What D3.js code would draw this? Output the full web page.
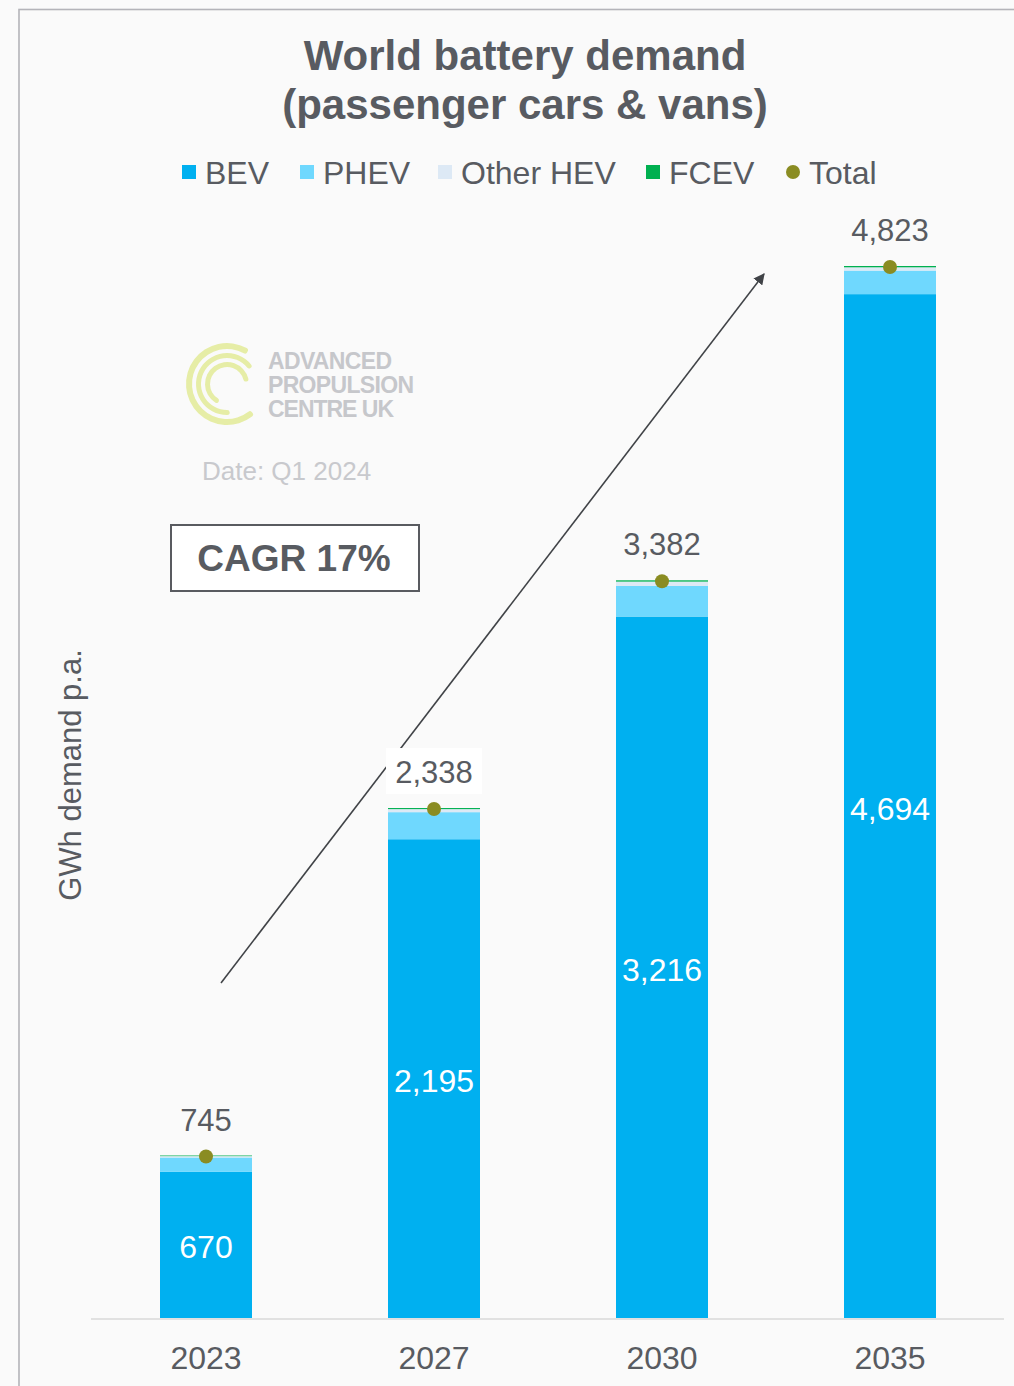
<!DOCTYPE html>
<html><head><meta charset="utf-8">
<script src="https://cdn.jsdelivr.net/npm/d3@7"></script>
<style>
html,body{margin:0;padding:0;background:#fafafa;}
svg{display:block;font-family:"Liberation Sans",Arial,sans-serif;}
</style></head>
<body>
<svg id="c" width="1014" height="1386"></svg>
<script>
const years = ["2023","2027","2030","2035"];
const bev = [670, 2195, 3216, 4694];
const phev = [66, 124, 140, 108];
const otherHev = [6, 14, 20, 15];
const fcev = [3, 5, 6, 6];
const totals = [745, 2338, 3382, 4823];
const seriesNames = ["BEV","PHEV","Other HEV","FCEV"];
const legendNames = ["BEV","PHEV","Other HEV","FCEV","Total"];
const colors = ["#00b0f0","#6fd8fe","#dde9f5","#00b050"];
const totalColor = "#8a8c22";
const textColor = "#585b61";

const svg = d3.select("#c");
svg.append("rect").attr("width",1014).attr("height",1386).attr("fill","#fafafa");
// frame
svg.append("rect").attr("x",19).attr("y",9.5).attr("width",1200).attr("height",1600)
  .attr("fill","#fafafa").attr("stroke","#b4b4b9").attr("stroke-width",1.6);

// title
svg.append("text").attr("x",525).attr("y",70).attr("text-anchor","middle")
  .attr("font-size",42).attr("font-weight","bold").attr("fill",textColor).text("World battery demand");
svg.append("text").attr("x",525).attr("y",119).attr("text-anchor","middle")
  .attr("font-size",42).attr("font-weight","bold").attr("fill",textColor).text("(passenger cars & vans)");

// legend
const legX = [182,300,438,646,786];
legendNames.forEach((n,i)=>{
  const g = svg.append("g").attr("transform",`translate(${legX[i]},172)`);
  if(i<4){
    g.append("rect").attr("x",0).attr("y",-7).attr("width",14).attr("height",14).attr("fill",colors[i]);
  } else {
    g.append("circle").attr("cx",7).attr("cy",0).attr("r",7).attr("fill",totalColor);
  }
  g.append("text").attr("x",23).attr("y",0).attr("dy","0.36em")
    .attr("font-size",32).attr("fill",textColor).text(n);
});

// scales
const x = d3.scaleBand().domain(years).range([92,1004]).paddingInner(0.5965).paddingOuter(0.29825);
const y = d3.scaleLinear().domain([0, d3.max(totals)]).range([1318, 266]);

// data table
const table = years.map((yr,i)=>({year:yr, BEV:bev[i], PHEV:phev[i], "Other HEV":otherHev[i], FCEV:fcev[i], total:totals[i]}));
const stack = d3.stack().keys(seriesNames)(table);

// logo
const logo = svg.append("g").attr("transform","translate(227,384)");
const arcs = [
  {r0:35,r1:41,a0:0.77,a1:2.18},
  {r0:26,r1:31,a0:0.97,a1:2.31},
  {r0:17,r1:22,a0:1.14,a1:2.46}
];
arcs.forEach(a=>{
  logo.append("path").attr("d", d3.arc().innerRadius(a.r0).outerRadius(a.r1)
    .startAngle(Math.PI*a.a0).endAngle(Math.PI*a.a1).cornerRadius(2.5)()).attr("fill","#e6eda6");
});
["ADVANCED","PROPULSION","CENTRE UK"].forEach((t,i)=>{
  svg.append("text").attr("x",268).attr("y",369+i*24).attr("font-size",23).attr("font-weight","bold")
    .attr("fill","#c6c7cb").attr("textLength", i==1?146:(i==0?124:126)).text(t);
});
svg.append("text").attr("x",202).attr("y",480).attr("font-size",26).attr("fill","#c8c9cd").text("Date: Q1 2024");

// CAGR box
svg.append("rect").attr("x",171).attr("y",525).attr("width",248).attr("height",66)
  .attr("fill","#ffffff").attr("stroke","#595b60").attr("stroke-width",2);
svg.append("text").attr("x",294).attr("y",558).attr("dy","0.36em").attr("text-anchor","middle")
  .attr("font-size",37).attr("font-weight","bold").attr("fill",textColor).text("CAGR 17%");

// y axis label
svg.append("text").attr("transform","translate(70,775) rotate(-90)").attr("text-anchor","middle")
  .attr("dy","0.36em").attr("font-size",31).attr("fill",textColor).text("GWh demand p.a.");

// bars
svg.append("g").selectAll("g").data(stack).join("g").attr("fill",(d,i)=>colors[i])
  .selectAll("rect").data(d=>d).join("rect")
  .attr("x",d=>x(d.data.year)).attr("width",x.bandwidth())
  .attr("y",d=>y(d[1])).attr("height",d=>y(d[0])-y(d[1]));

// axis line
svg.append("line").attr("x1",91).attr("x2",1004).attr("y1",1319).attr("y2",1319)
  .attr("stroke","#e1e1e1").attr("stroke-width",2);

// x labels
const xAxis = svg.append("g").attr("transform","translate(0,1319)")
  .call(d3.axisBottom(x).tickSize(0).tickPadding(0));
xAxis.select(".domain").remove();
xAxis.selectAll("text").attr("y",38).attr("dy","0.36em").attr("font-size",32)
  .attr("font-family","Liberation Sans, Arial, sans-serif").attr("fill",textColor);

// arrow
svg.append("defs").append("marker").attr("id","ah").attr("viewBox","0 0 10 10")
  .attr("refX",9).attr("refY",5).attr("markerWidth",7).attr("markerHeight",7).attr("orient","auto")
  .append("path").attr("d","M0,0 L10,5 L0,10 z").attr("fill","#404347");
svg.append("line").attr("x1",221).attr("y1",983).attr("x2",764).attr("y2",274)
  .attr("stroke","#404347").attr("stroke-width",1.6).attr("marker-end","url(#ah)");

// BEV inner labels
svg.append("g").selectAll("text").data(table).join("text")
  .attr("x",d=>x(d.year)+x.bandwidth()/2).attr("y",d=>(y(0)+y(d.BEV))/2+2).attr("dy","0.36em")
  .attr("text-anchor","middle").attr("font-size",32).attr("fill","#ffffff")
  .text(d=>d3.format(",")(d.BEV));

// total label box (2027 has white background where arrow crosses)
table.forEach(d=>{
  if(d.year==="2027"){
    svg.append("rect").attr("x",x(d.year)-2).attr("y",y(d.total)-60).attr("width",x.bandwidth()+4).attr("height",46)
      .attr("fill","#ffffff");
  }
});
svg.append("g").selectAll("text").data(table).join("text")
  .attr("x",d=>x(d.year)+x.bandwidth()/2).attr("y",d=>y(d.total)-36).attr("dy","0.36em")
  .attr("text-anchor","middle").attr("font-size",31).attr("fill",textColor)
  .text(d=>d3.format(",")(d.total));

// total dots
svg.append("g").selectAll("circle").data(table).join("circle")
  .attr("cx",d=>x(d.year)+x.bandwidth()/2).attr("cy",d=>y(d.total)+1).attr("r",7).attr("fill",totalColor);
</script>
</body></html>
